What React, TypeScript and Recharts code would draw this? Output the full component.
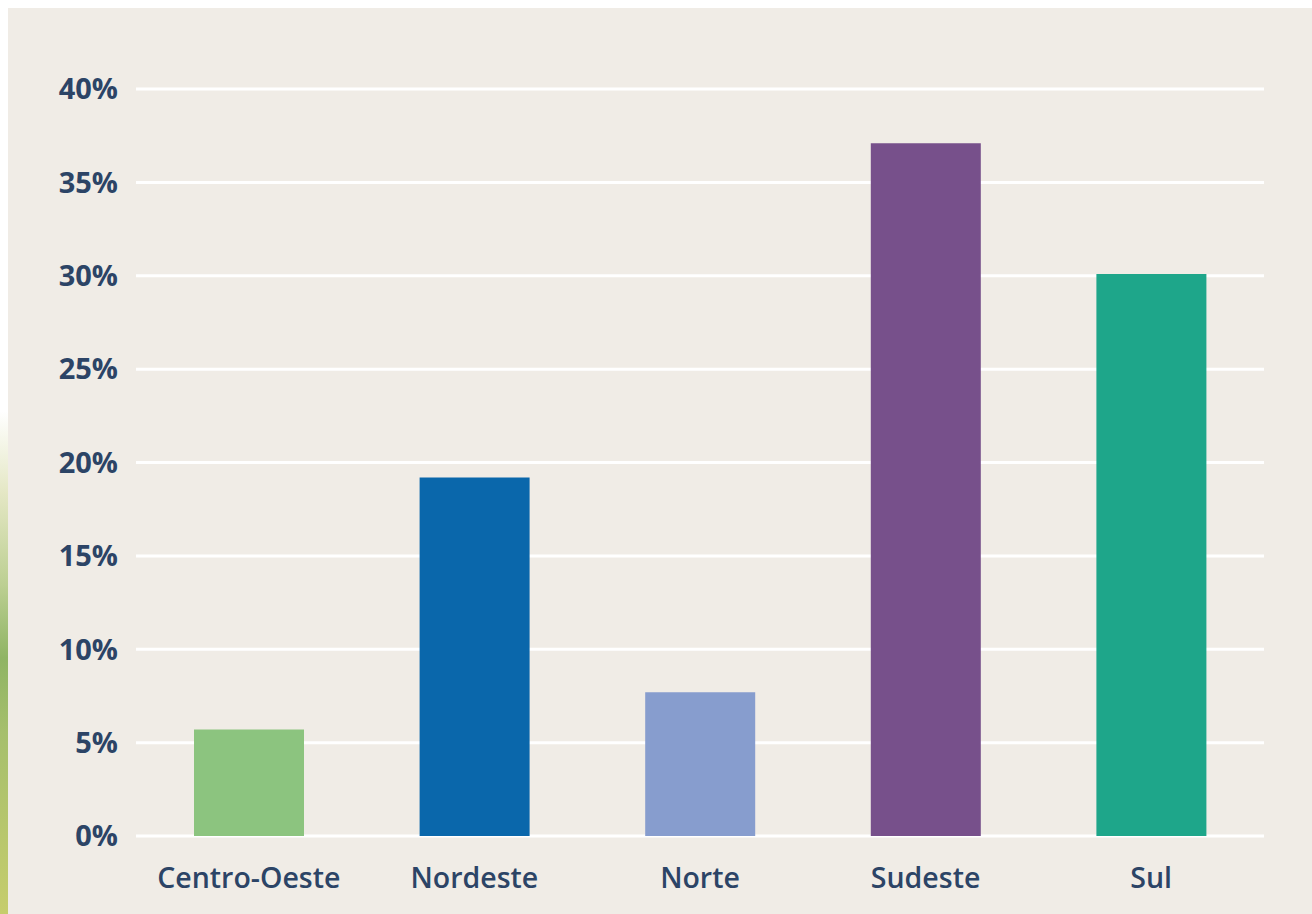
import { BarChart, Bar, XAxis, YAxis, CartesianGrid, Cell } from 'recharts';

const REGIONS = ['Centro-Oeste', 'Nordeste', 'Norte', 'Sudeste', 'Sul'];
const SHARES = [5.7, 19.2, 7.7, 37.1, 30.1];
const BAR_COLORS = ['#8cc47f', '#0a67ab', '#879dce', '#77508b', '#1ea68a'];
const Y_TICKS = [0, 5, 10, 15, 20, 25, 30, 35, 40];

const TEXT = '#2c4466';
const FONT = '"Open Sans", "Noto Sans", sans-serif';

const data = REGIONS.map((region, i) => ({ region, share: SHARES[i] }));

export default function App() {
  return (
    <>
      <div
        style={{
          position: 'fixed',
          left: 0,
          top: 0,
          width: 8,
          height: 914,
          background:
            'linear-gradient(to bottom, #ffffff 0%, #ffffff 45%, #e4e7c4 54%, #bccf92 64%, #8fb464 72%, #a5bf6c 80%, #c6cd6c 100%)',
        }}
      />
      <div
        style={{
          position: 'absolute',
          left: 8,
          top: 8,
          width: 1304,
          height: 906,
          background: '#f0ece6',
        }}
      >
        <BarChart
          width={1304}
          height={906}
          data={data}
          margin={{ top: 81, right: 48, left: 0, bottom: 18 }}
          barSize={110}
        >
          <CartesianGrid vertical={false} stroke="#ffffff" strokeWidth={3} />
          <XAxis
            dataKey="region"
            axisLine={false}
            tickLine={false}
            tickSize={0}
            tickMargin={32}
            height={60}
            interval={0}
            tick={{ fill: TEXT, fontSize: 28.5, fontWeight: 600, fontFamily: FONT }}
          />
          <YAxis
            width={128}
            domain={[0, 40]}
            ticks={Y_TICKS}
            axisLine={false}
            tickLine={false}
            tickSize={0}
            tickMargin={18}
            tickFormatter={(v: number) => `${v}%`}
            tick={{ fill: TEXT, fontSize: 29, fontWeight: 700, fontFamily: FONT }}
          />
          <Bar dataKey="share" isAnimationActive={false}>
            {data.map((d, i) => (
              <Cell key={d.region} fill={BAR_COLORS[i]} />
            ))}
          </Bar>
        </BarChart>
      </div>
    </>
  );
}
